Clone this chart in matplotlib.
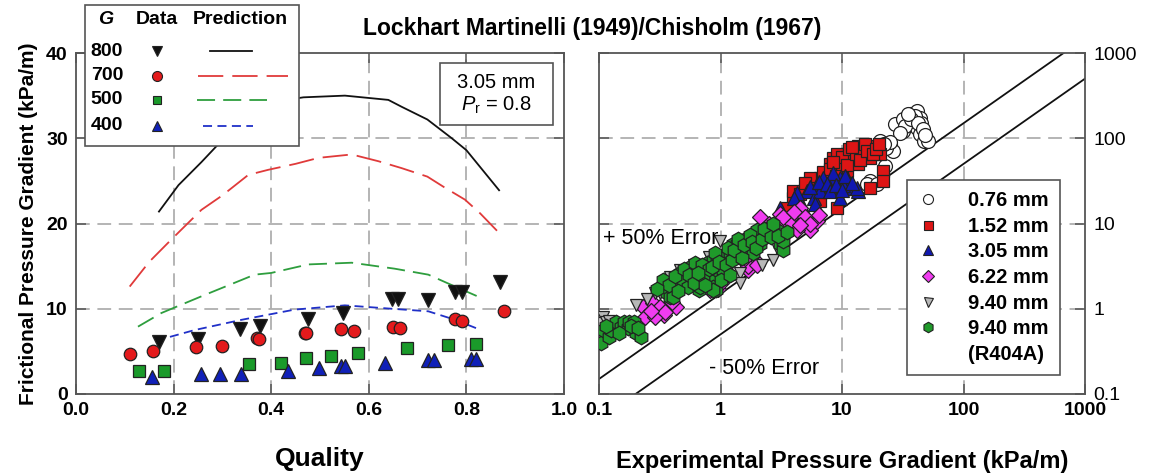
import numpy as np
import matplotlib
matplotlib.use("Agg")
import matplotlib.pyplot as plt
from matplotlib.lines import Line2D
from matplotlib.patches import Rectangle
from matplotlib.ticker import NullLocator, FixedLocator, FixedFormatter

plt.rcParams['font.family'] = ['Liberation Sans', 'DejaVu Sans']
plt.rcParams['mathtext.fontset'] = 'custom'
plt.rcParams['mathtext.rm'] = 'Liberation Sans'
plt.rcParams['mathtext.it'] = 'Liberation Sans:italic'

W, H = 1153, 476

# ---- left panel: measured data vs quality, G = 800/700/500/400 ----
G = [800, 700, 500, 400]

q800 = [0.170, 0.250, 0.337, 0.378, 0.476, 0.548, 0.647, 0.660, 0.721, 0.777, 0.790, 0.868]
dp800 = [6.1, 6.5, 7.6, 8.0, 8.8, 9.5, 11.1, 11.1, 11.0, 12.0, 12.0, 13.1]
q700 = [0.110, 0.157, 0.245, 0.300, 0.370, 0.376, 0.469, 0.472, 0.543, 0.570, 0.649, 0.663, 0.777, 0.790, 0.878]
dp700 = [4.7, 5.0, 5.5, 5.6, 6.6, 6.5, 7.2, 7.2, 7.6, 7.4, 7.9, 7.8, 8.8, 8.6, 9.7]
q500 = [0.130, 0.180, 0.355, 0.421, 0.472, 0.522, 0.577, 0.678, 0.762, 0.820]
dp500 = [2.7, 2.7, 3.5, 3.6, 4.2, 4.4, 4.8, 5.4, 5.7, 5.9]
q400 = [0.155, 0.257, 0.296, 0.339, 0.435, 0.498, 0.543, 0.552, 0.633, 0.722, 0.733, 0.810, 0.820]
dp400 = [2.0, 2.3, 2.3, 2.4, 2.7, 3.1, 3.3, 3.3, 3.6, 4.0, 4.0, 4.1, 4.1]

# predictions
pq800 = [0.170, 0.21, 0.257, 0.29, 0.33, 0.38, 0.42, 0.466, 0.551, 0.64, 0.667, 0.72, 0.77, 0.80, 0.867]
pdp800 = [21.4, 24.5, 27.2, 29.2, 31.2, 33.3, 34.4, 34.8, 35.0, 34.5, 33.7, 32.2, 30.0, 28.6, 23.9]
pq700 = [0.11, 0.15, 0.195, 0.257, 0.30, 0.353, 0.394, 0.45, 0.497, 0.565, 0.62, 0.667, 0.72, 0.756, 0.797, 0.828, 0.872]
pdp700 = [12.6, 15.5, 18.1, 21.6, 23.3, 25.7, 26.3, 27.0, 27.7, 28.1, 27.3, 26.5, 25.5, 24.2, 22.8, 21.2, 18.6]
pq500 = [0.127, 0.175, 0.263, 0.366, 0.400, 0.476, 0.565, 0.653, 0.722, 0.777, 0.821]
pdp500 = [7.9, 9.5, 11.6, 14.0, 14.2, 15.2, 15.4, 14.7, 14.0, 12.6, 11.5]
pq400 = [0.164, 0.243, 0.339, 0.448, 0.551, 0.647, 0.722, 0.777, 0.821]
pdp400 = [6.25, 7.5, 8.7, 9.9, 10.4, 10.0, 9.7, 8.7, 7.7]

# ---- right panel: predicted vs experimental (kPa/m) ----
exp076 = [27.3, 31.8, 36.3, 41.5, 43.9, 41.5, 43.9, 47.0, 51.0, 31.8, 39.0, 45.0, 40.0,
          20.6, 24.8, 26.3, 17.0, 16.1, 19.3, 23.2, 22.5,
          33, 37, 42, 46, 48, 35, 30, 25, 22]
pre076 = [148, 167, 190, 210, 171, 133, 113, 93.5, 93.5, 122, 160, 150, 180,
          93.5, 85.4, 71.4, 31.8, 29.3, 29.3, 77.6, 47.9,
          140, 170, 150, 130, 110, 190, 115, 90, 85]
exp152 = [3.96, 3.52, 6.6, 9.1, 7.96, 9.6, 11.0, 12.3, 14.9, 18.0, 20.6, 11.0, 13.5, 17.0,
          21.8, 21.8, 17.0, 6.6, 5.45, 8.4, 9.1, 12.3, 14.9, 10.0, 7.0, 5.0, 13.5, 3.96, 5.45,
          4.5, 5.0, 6.0, 7.5, 8.0, 9.0, 10.0, 11.0, 11.5, 13.0, 14.0, 15.5, 16.0, 18.0, 19.0,
          20.0, 12.0, 8.5]
pre152 = [20.1, 15.3, 18.6, 15.3, 50, 54.6, 65.4, 71.4, 77, 81.3, 65.4, 41.7, 50, 59,
          41.7, 31.8, 26.3, 34.5, 29.3, 59, 65, 59, 65, 45, 40, 25, 81.3, 24.3, 34.5,
          22, 30, 26, 30, 44, 36, 60, 48, 75, 66, 55, 86, 70, 65, 75,
          85, 80, 52]
exp305 = [5.2, 6.2, 7.0, 8.4, 9.6, 11.0, 12.3, 13.5, 9.6, 7.96, 5.9, 4.5, 3.09, 4.26,
          8.4, 11.0, 13.3, 6.6, 4.8, 10.2,
          4.0, 5.5, 6.5, 7.5, 8.0, 9.0, 10.5, 12.0, 6.0, 10.0]
pre305 = [24.3, 29.3, 34.5, 31.8, 34.5, 31.8, 26.3, 24.3, 20.1, 26.3, 20.1, 18.6, 15.3, 22.5,
          38.7, 34.5, 26.3, 24.3, 15.0, 28.0,
          20, 27, 31, 29, 24, 28, 36, 30, 17, 25]
exp622 = [0.23, 0.26, 0.28, 0.31, 0.34, 0.37, 0.43, 0.24, 0.29, 0.40,
          1.53, 1.8, 1.67, 1.92, 0.82,
          2.11, 3.09, 3.96, 4.79, 3.52, 5.45, 6.2, 4.51, 3.73, 4.26,
          0.32, 0.35, 0.27, 1.7, 2.0, 1.6, 2.5, 3.0, 3.3, 4.0, 5.0, 5.5, 4.5, 6.5, 0.95, 1.0]
pre622 = [1.04, 0.89, 1.16, 0.96, 0.84, 1.1, 1.04, 0.79, 0.80, 1.2,
          3.69, 3.4, 2.82, 3.69, 1.65,
          11.8, 13.0, 11.8, 10.8, 9.0, 8.3, 10.8, 15.3, 10.0, 8.3,
          1.05, 0.92, 0.95, 3.2, 3.3, 3.9, 10, 9.5, 12, 13.5, 12, 10, 9.5, 12.5, 1.7, 2.0]
exp940 = [0.10, 0.108, 0.10, 0.115, 0.29, 0.35, 0.336, 0.32, 1.45, 2.7, 2.9, 0.384, 0.464,
          0.99, 3.3, 1.45, 0.6, 0.8,
          0.2, 0.25, 0.5, 0.7, 1.1, 1.9, 2.2, 0.12, 0.13]
pre940 = [0.73, 0.79, 0.68, 0.70, 1.52, 1.98, 1.8, 1.52, 2.6, 3.69, 5.2, 2.33, 2.82,
          6.3, 7.6, 1.98, 3.3, 4.0,
          1.1, 1.3, 2.2, 2.1, 4.2, 4.8, 3.3, 0.72, 0.6]
exp404 = [0.104, 0.108, 0.121, 0.125, 0.138, 0.152, 0.16, 0.173, 0.177, 0.194, 0.20, 0.22,
          0.115, 0.145, 0.185, 0.21,
          0.336, 0.363, 0.384, 0.406, 0.455, 0.464, 0.49, 0.54, 0.561, 0.59, 0.64, 0.66, 0.678,
          0.76, 0.77, 0.82, 0.87, 0.87, 0.92, 0.94, 0.94, 1.05, 1.05, 1.13, 1.2, 1.27, 1.37,
          1.45, 1.65, 1.65, 1.85, 2.0, 2.11, 2.4, 2.55, 2.9, 3.09, 3.3, 3.3, 0.678, 0.87,
          0.38, 0.42, 0.5, 0.55, 0.6, 0.62, 0.7, 0.72, 0.75, 0.8, 0.85, 0.9, 0.98, 1.0, 1.1,
          1.15, 1.25, 1.3, 1.4, 1.5, 1.55, 1.75, 1.8, 1.95, 2.2, 2.3, 2.6, 2.7, 3.0, 3.5,
          0.3, 0.45, 0.65, 1.2]
pre404 = [0.40, 0.56, 0.46, 0.56, 0.69, 0.61, 0.69, 0.59, 0.69, 0.69, 0.52, 0.46,
          0.62, 0.52, 0.62, 0.60,
          2.15, 1.52, 1.37, 1.37, 1.98, 2.6, 2.15, 1.78, 3.1, 2.33, 1.98, 1.65, 2.82,
          2.82, 3.4, 2.33, 3.69, 1.78, 1.65, 4.0, 2.82, 4.0, 2.82, 4.46, 4.46, 5.8, 5.8,
          4.6, 6.8, 5.3, 4.46, 8.3, 5.8, 7.6, 9.0, 8.3, 5.8, 4.83, 6.3, 1.78, 1.65,
          1.9, 2.4, 2.9, 2.5, 2.0, 3.4, 3.3, 2.4, 1.9, 2.9, 3.1, 4.5, 3.5, 2.2, 3.3,
          5.2, 3.7, 4.9, 6.6, 3.9, 5.6, 7.3, 6.0, 5.2, 6.6, 8.6, 6.9, 9.8, 7.2, 8.0,
          1.7, 1.6, 2.6, 2.5]

dia_labels = ['0.76 mm', '1.52 mm', '3.05 mm', '6.22 mm', '9.40 mm', '9.40 mm', '(R404A)']
err_band = [1.5, 0.5]


def fx(px):
    return px / W


def fy(py):
    return 1 - py / H


fig = plt.figure(figsize=(W / 100, H / 100), dpi=100)
axL = fig.add_axes([fx(76), fy(394), (564 - 76) / W, (394 - 53) / H])
axR = fig.add_axes([fx(599), fy(394), (1085 - 599) / W, (394 - 53) / H])

spine_c = '#555555'
grid_kw = dict(color='#a0a0a0', linewidth=1.1, dashes=(9, 5))

# left panel
styles = [
    dict(marker='v', color='#111111', ms=9.5),
    dict(marker='o', color='#e41a1c', ms=9),
    dict(marker='s', color='#1a9a2a', ms=8),
    dict(marker='^', color='#1020b8', ms=9.5),
]
line_styles = [
    dict(color='#111111', ls='-'),
    dict(color='#e03a3a', dashes=(14, 5)),
    dict(color='#2e9e3e', dashes=(10, 4.5)),
    dict(color='#2030c8', dashes=(5, 3)),
]
qs = [q800, q700, q500, q400]
dps = [dp800, dp700, dp500, dp400]
pqs = [pq800, pq700, pq500, pq400]
pdps = [pdp800, pdp700, pdp500, pdp400]

for v in [0.2, 0.4, 0.6, 0.8]:
    axL.axvline(v, zorder=0, **grid_kw)
for v in [10, 20, 30]:
    axL.axhline(v, zorder=0, **grid_kw)

for pq, pdp, ls in zip(pqs, pdps, line_styles):
    axL.plot(pq, pdp, lw=1.3, zorder=2, **ls)
for q, dp, st in zip(qs, dps, styles):
    axL.plot(q, dp, ls='none', marker=st['marker'], ms=st['ms'],
             mfc=st['color'], mec='#222222', mew=0.9, zorder=3)

axL.set_xlim(0, 1)
axL.set_ylim(0, 40)
axL.set_xticks([0, 0.2, 0.4, 0.6, 0.8, 1.0])
axL.set_xticklabels(['0.0', '0.2', '0.4', '0.6', '0.8', '1.0'])
axL.set_yticks([0, 10, 20, 30, 40])
axL.set_xlabel('Quality', fontsize=19, fontweight='bold', labelpad=20)
axL.set_ylabel('Frictional Pressure Gradient (kPa/m)', fontsize=15, fontweight='bold', labelpad=6)

# right panel
for v in [1, 10, 100]:
    axR.axvline(v, zorder=0, **grid_kw)
    axR.axhline(v, zorder=0, **grid_kw)

xx = np.array([0.1, 1000])
for k in err_band:
    axR.plot(xx, k * xx, color='#111111', lw=1.3, zorder=1)

r_series = [
    (exp076, pre076, dict(marker='o', mfc='white', ms=10)),
    (exp152, pre152, dict(marker='s', mfc='#dd1515', ms=9)),
    (exp305, pre305, dict(marker='^', mfc='#1018b0', ms=9.5)),
    (exp622, pre622, dict(marker='D', mfc='#f03cf0', ms=8)),
    (exp940, pre940, dict(marker='v', mfc='#b8b8b8', ms=9)),
    (exp404, pre404, dict(marker='h', mfc='#1f9a2a', ms=10.5)),
]
handles = []
for ex, pr, st in r_series:
    axR.plot(ex, pr, ls='none', marker=st['marker'], ms=st['ms'], mfc=st['mfc'],
             mec='#222222', mew=0.9, zorder=3)
    handles.append(Line2D([], [], ls='none', marker=st['marker'], ms=st['ms'] * 0.72,
                          mfc=st['mfc'], mec='#222222', mew=0.8))
handles.append(Line2D([], [], ls='none'))

axR.set_xscale('log')
axR.set_yscale('log')
axR.set_xlim(0.1, 1000)
axR.set_ylim(0.1, 1000)
dec = [0.1, 1, 10, 100, 1000]
dec_lab = ['0.1', '1', '10', '100', '1000']
axR.xaxis.set_major_locator(FixedLocator(dec))
axR.xaxis.set_major_formatter(FixedFormatter(dec_lab))
axR.yaxis.set_major_locator(FixedLocator(dec))
axR.yaxis.set_major_formatter(FixedFormatter(dec_lab))
axR.xaxis.set_minor_locator(NullLocator())
axR.yaxis.set_minor_locator(NullLocator())
axR.set_xlabel('Experimental Pressure Gradient (kPa/m)', fontsize=17, fontweight='bold', labelpad=22)

axR.text(0.108, 6.7, '+ 50% Error', fontsize=15.5, va='center', ha='left', zorder=4)
axR.text(0.80, 0.2, '- 50% Error', fontsize=15.5, va='center', ha='left', zorder=4)

for ax in (axL, axR):
    for s in ax.spines.values():
        s.set_color(spine_c)
        s.set_linewidth(1.3)
    ax.tick_params(which='both', direction='in', length=7, width=1.1, color=spine_c,
                   top=True, right=True, labelsize=14, pad=6)
    for lab in ax.get_xticklabels() + ax.get_yticklabels():
        lab.set_fontweight('bold')
axR.tick_params(labelleft=False, labelright=True)

leg = axR.legend(handles, dia_labels, loc='upper left',
                 bbox_to_anchor=(fx(907), fy(180)), bbox_transform=fig.transFigure,
                 borderaxespad=0, fancybox=False, edgecolor=spine_c, framealpha=1,
                 prop=dict(size=14.5, weight='bold'), handlelength=1.0, handletextpad=1.5,
                 labelspacing=0.33, borderpad=0.55)
leg.get_frame().set_linewidth(1.2)
leg.set_zorder(5)

# title
fig.text(fx(592), fy(28), 'Lockhart Martinelli (1949)/Chisholm (1967)',
         fontsize=16.5, fontweight='bold', ha='center', va='center')

# inset box on left panel
fig.add_artist(Rectangle((fx(440), fy(125)), (553 - 440) / W, (125 - 63) / H,
                         transform=fig.transFigure, fc='white', ec=spine_c, lw=1.2, zorder=5))
fig.text(fx(496), fy(82), '3.05 mm', fontsize=14.5, ha='center', va='center', zorder=6)
fig.text(fx(496), fy(105), r'$P_\mathrm{r}$ = 0.8', fontsize=14.5, ha='center', va='center', zorder=6)

# left legend table
fig.add_artist(Rectangle((fx(85), fy(146)), (299 - 85) / W, (146 - 5) / H,
                         transform=fig.transFigure, fc='white', ec=spine_c, lw=1.2, zorder=5))
fig.text(fx(106), fy(20), 'G', fontsize=14, fontweight='bold', style='italic',
         ha='center', va='center', zorder=6)
fig.text(fx(157), fy(20), 'Data', fontsize=14, fontweight='bold', ha='center', va='center', zorder=6)
fig.text(fx(240), fy(20), 'Prediction', fontsize=14, fontweight='bold', ha='center', va='center', zorder=6)
row_y = [51, 76, 100, 126]
seg = [(210, 252), (198, 288), (197, 267), (203, 253)]
for g, ry, st, ls, (x0, x1) in zip(G, row_y, styles, line_styles, seg):
    fig.text(fx(107), fy(ry), str(g), fontsize=14, fontweight='bold',
             ha='center', va='center', zorder=6)
    fig.add_artist(Line2D([fx(157)], [fy(ry)], transform=fig.transFigure, ls='none',
                          marker=st['marker'], ms=st['ms'] * 0.8, mfc=st['color'],
                          mec='#222222', mew=0.8, zorder=6))
    fig.add_artist(Line2D([fx(x0), fx(x1)], [fy(ry), fy(ry)], transform=fig.transFigure,
                          lw=1.3, zorder=6, **ls))

fig.savefig('out.png', dpi=100)
